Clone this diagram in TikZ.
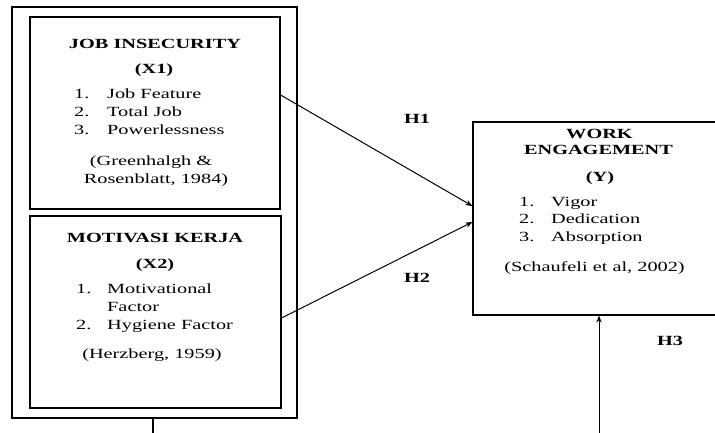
\documentclass[tikz,border=0pt]{standalone}
\usepackage{fontspec}
\setmainfont{Liberation Serif}[FakeStretch=1.45]
\usetikzlibrary{arrows.meta}

\tikzset{
  box/.style={draw, line width=1.2pt, inner sep=0pt},
  hyp/.style={-{Stealth[length=7pt,width=5.5pt]}, line width=1pt},
  txt/.style={anchor=base, inner sep=0pt, font=\fontsize{14}{17}\selectfont},
  ttl/.style={txt, font=\fontsize{14}{17}\selectfont\bfseries},
  itm/.style={txt, anchor=base west},
}

\begin{document}
\begin{tikzpicture}[x=1pt,y=-1pt]
	\clip (0,0) rectangle (715,432);
	% boxes
	\node[box, minimum width=285pt, minimum height=411pt] (outer) at (154.5,212.5) {};
	\node[box, minimum width=250pt, minimum height=192pt] (box1) at (155,113) {};
	\node[box, minimum width=251pt, minimum height=192pt] (box2) at (155.5,312) {};
	\node[box, minimum width=274pt, minimum height=193pt] (wbox) at (610,218.5) {};
	% job insecurity
	\node[ttl] (x1t) at (155,48) {JOB INSECURITY};
	\node[ttl] (x1) at (154,73) {(X1)};
	\foreach \n/\t/\y in {1/Job Feature/98, 2/Total Job/116, 3/Powerlessness/134} {
		\node[itm] (x1n\n) at (74,\y) {\n.};
		\node[itm] (x1i\n) at (107,\y) {\t};
	}
	\node[txt] (x1c1) at (151,165) {(Greenhalgh \&};
	\node[txt] (x1c2) at (156,183) {Rosenblatt, 1984)};
	% motivasi kerja
	\node[ttl] (x2t) at (155,242) {MOTIVASI KERJA};
	\node[ttl] (x2) at (155,268) {(X2)};
	\node[itm] (x2n1) at (76,293) {1.};
	\node[itm] (x2i1) at (107,293) {Motivational};
	\node[itm] (x2i1b) at (107,311) {Factor};
	\node[itm] (x2n2) at (76,329) {2.};
	\node[itm] (x2i2) at (107,329) {Hygiene Factor};
	\node[txt] (x2c) at (152,358) {(Herzberg, 1959)};
	% work engagement
	\node[ttl] (yt1) at (599.5,138) {WORK};
	\node[ttl] (yt2) at (598.5,154) {ENGAGEMENT};
	\node[ttl] (y) at (600,181) {(Y)};
	\foreach \n/\t/\y in {1/Vigor/206, 2/Dedication/223, 3/Absorption/241} {
		\node[itm] (yn\n) at (519,\y) {\n.};
		\node[itm] (yi\n) at (551,\y) {\t};
	}
	\node[txt] (yc) at (594.5,271) {(Schaufeli et al, 2002)};
	% hypotheses
	\node[ttl] (h1) at (417,123) {H1};
	\node[ttl] (h2) at (417,282) {H2};
	\node[ttl] (h3) at (670,345) {H3};
	\coordinate (h1s) at ([yshift=18pt]box1.east);
	\coordinate (h1e) at ([yshift=12.5pt]wbox.west);
	\coordinate (h2s) at ([yshift=-6pt]box2.east);
	\coordinate (h2e) at ([yshift=-3.5pt]wbox.west);
	\coordinate (h3s) at (599,440);
	\coordinate (tail) at (153,440);
	\draw[hyp] (h1s) -- (h1e);
	\draw[hyp] (h2s) -- (h2e);
	\draw[hyp] (h3s) -- (h3s |- wbox.south);
	\draw[line width=1.2pt] (tail |- outer.south) -- (tail);
\end{tikzpicture}
\end{document}
